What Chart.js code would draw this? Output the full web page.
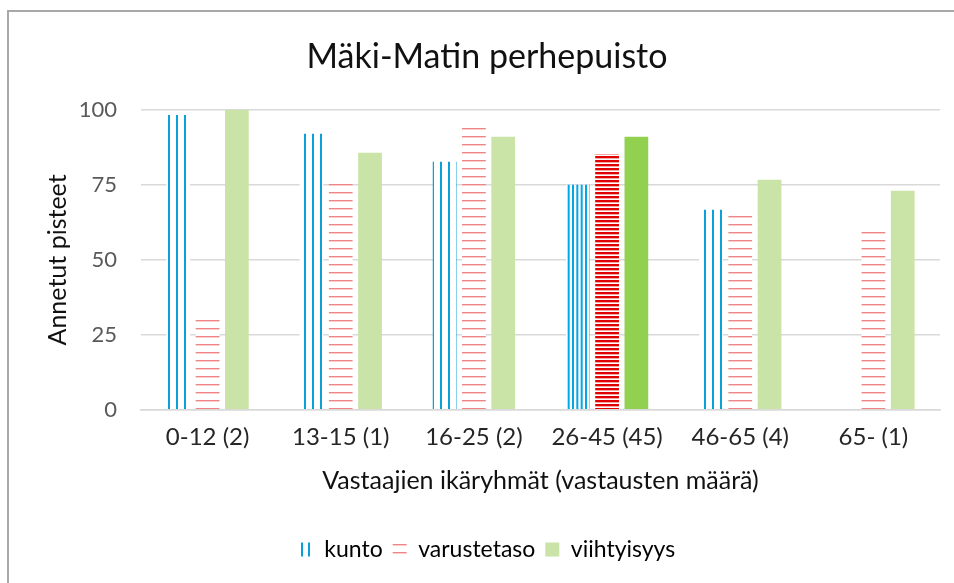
<!DOCTYPE html>
<html>
<head>
<meta charset="utf-8">
<script src="https://cdn.jsdelivr.net/npm/chart.js@4"></script>
<style>
  html, body { margin: 0; padding: 0; background: #fff; overflow: hidden; }
  #wrap { position: relative; width: 954px; height: 583px; }
  #frame { position: absolute; left: 7px; top: 10px; width: 1000px; height: 1000px;
           border-top: 2px solid #A8A8A8; border-left: 2px solid #A8A8A8; pointer-events: none; }
</style>
</head>
<body>
<div id="wrap">
  <canvas id="chart" width="954" height="583"></canvas>
  <div id="frame"></div>
</div>
<script>
// Arvot luettu kuvasta
const ryhmat = ['0-12 (2)', '13-15 (1)', '16-25 (2)', '26-45 (45)', '46-65 (4)', '65- (1)'];
const kunto = [98.3, 92, 82.7, 75, 66.7, null];
const varustetaso = [30, 75.7, 94.3, 85.3, 65.7, 59.3];
const viihtyisyys = [100, 85.7, 91, 91, 76.7, 73];
const yTicks = [0, 25, 50, 75, 100];
const korostettu = 3; // 26-45 ryhmä piirretään tummemmilla kuvioilla

const FONT = 'Lato, "Open Sans", sans-serif';

// pieni apufunktio kuvioiden tekemiseen
function kuvio(w, h, piirra) {
    const c = document.createElement('canvas');
    c.width = w;
    c.height = h;
    const g = c.getContext('2d');
    g.fillStyle = '#fff';
    g.fillRect(0, 0, w, h);
    piirra(g);
    return document.getElementById('chart').getContext('2d').createPattern(c, 'repeat');
}

const kuntoKuvio = kuvio(8, 8, g => {
    g.fillStyle = '#0AA0DA';
    g.fillRect(0, 0, 2, 8);
});
const kuntoTiheä = kuvio(13, 4, g => {
    g.fillStyle = '#00A8E6';
    g.fillRect(0, 0, 2, 4);
    g.fillRect(4.33, 0, 2, 4);
    g.fillRect(8.67, 0, 2, 4);
});
const varusteKuvio = kuvio(8, 8, g => {
    g.fillStyle = '#F08484';
    g.fillRect(0, 0, 8, 1.4);
});
const varusteTiheä = kuvio(4, 4, g => {
    g.fillStyle = '#E00000';
    g.fillRect(0, 0, 4, 2);
    g.fillStyle = '#F4A8A8';
    g.fillRect(0, 2, 4, 1);
});
// selitteen "II" -merkki
const kuntoSelite = kuvio(7, 8, g => {
    g.fillStyle = '#0AA0DA';
    g.fillRect(0, 0, 2, 8);
});

const värit = (normaali, tumma) => ryhmat.map((_, i) => i === korostettu ? tumma : normaali);

new Chart(document.getElementById('chart'), {
    type: 'bar',
    data: {
        labels: ryhmat,
        datasets: [
            { label: 'kunto', data: kunto, backgroundColor: värit(kuntoKuvio, kuntoTiheä) },
            { label: 'varustetaso', data: varustetaso, backgroundColor: värit(varusteKuvio, varusteTiheä) },
            { label: 'viihtyisyys', data: viihtyisyys, backgroundColor: värit('#C9E4A6', '#92D050') }
        ]
    },
    options: {
        responsive: false,
        animation: false,
        devicePixelRatio: 1,
        layout: { padding: { left: 34, right: 14, top: 0, bottom: 12 } },
        datasets: {
            bar: { barPercentage: 0.81, categoryPercentage: 0.66, borderWidth: 0 }
        },
        plugins: {
            title: {
                display: true,
                text: 'Mäki-Matin perhepuisto',
                color: '#111',
                font: { family: FONT, size: 34, weight: 'normal' },
                padding: { top: 37, bottom: 32 }
            },
            legend: {
                position: 'bottom',
                labels: {
                    color: '#111',
                    font: { family: FONT, size: 23 },
                    boxWidth: 14,
                    boxHeight: 14,
                    padding: 10,
                    generateLabels: () => [
                        { text: 'kunto', fillStyle: kuntoSelite, lineWidth: 0, strokeStyle: 'rgba(0,0,0,0)', datasetIndex: 0 },
                        { text: 'varustetaso', fillStyle: varusteKuvio, lineWidth: 0, strokeStyle: 'rgba(0,0,0,0)', datasetIndex: 1 },
                        { text: 'viihtyisyys', fillStyle: '#C9E4A6', lineWidth: 0, strokeStyle: 'rgba(0,0,0,0)', datasetIndex: 2 }
                    ]
                }
            },
            tooltip: { enabled: false }
        },
        scales: {
            x: {
                grid: { display: false, drawTicks: false },
                border: { display: true, color: '#D9D9D9', width: 1.5, z: 1 },
                ticks: { color: '#262626', font: { family: FONT, size: 24 }, padding: 13 },
                title: {
                    display: true,
                    text: 'Vastaajien ikäryhmät (vastausten määrä)',
                    color: '#111',
                    font: { family: FONT, size: 25 },
                    padding: { top: 8, bottom: 32 }
                },
                afterFit: s => { s.height = 118; }
            },
            y: {
                min: 0,
                max: 100,
                afterBuildTicks: s => { s.ticks = yTicks.map(v => ({ value: v })); },
                grid: { color: '#D9D9D9', lineWidth: 1.5, drawTicks: false },
                border: { display: false },
                ticks: { color: '#595959', font: { family: FONT, size: 22 }, padding: 24 },
                title: {
                    display: true,
                    text: 'Annetut pisteet',
                    color: '#111',
                    font: { family: FONT, size: 25 },
                    padding: { top: 9, bottom: 0 }
                },
                afterFit: s => { s.width = 107; }
            }
        }
    }
});
</script>
</body>
</html>
